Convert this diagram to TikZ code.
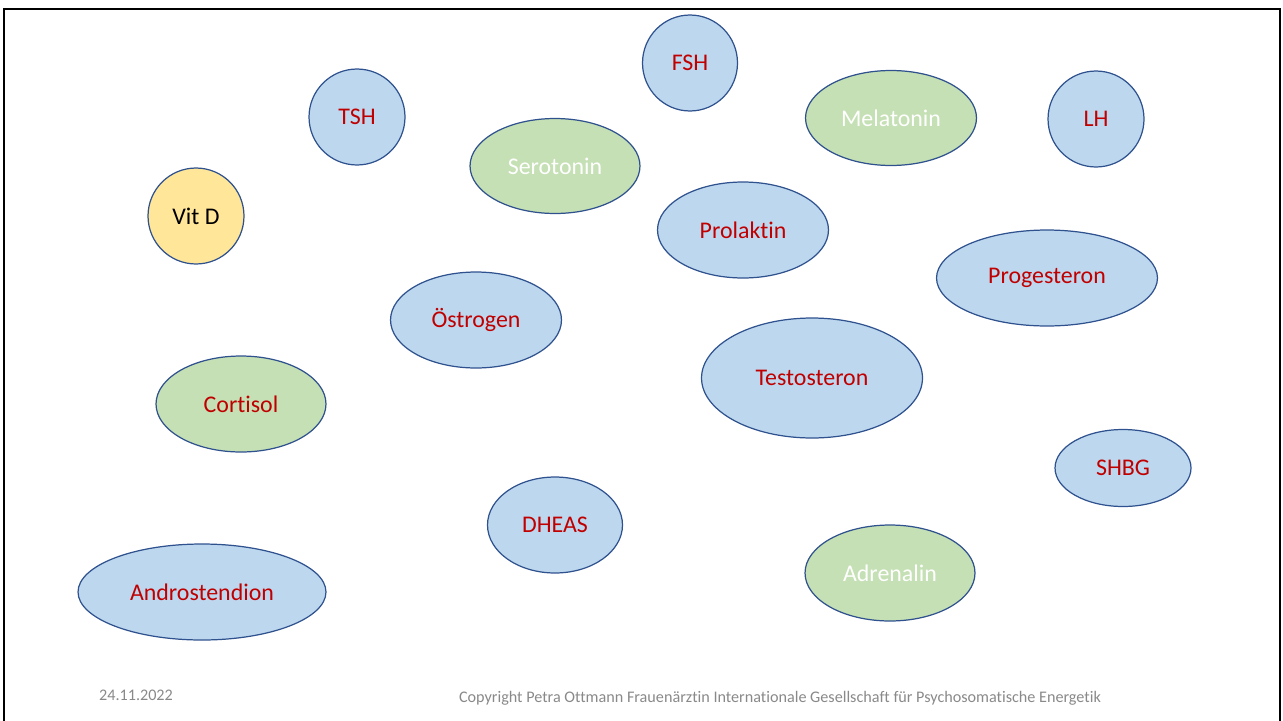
\documentclass[tikz,border=0pt]{standalone}
\usepackage{fontspec}
\setmainfont{Carlito}[Ligatures=NoCommon]
\usepackage{tikz}
\usetikzlibrary{shapes.geometric}

\definecolor{hblue}{HTML}{BDD7EE}
\definecolor{hgreen}{HTML}{C5E0B4}
\definecolor{hyellow}{HTML}{FFE699}
\definecolor{hline}{HTML}{2F528F}
\definecolor{hred}{HTML}{C00000}
\definecolor{hgray}{HTML}{898989}

\begin{document}
\begin{tikzpicture}
		[x=0.02cm,y=-0.02cm,
		every node/.style={ellipse,draw=hline,line width=0.7pt,inner sep=0pt,font=\fontsize{13.6}{15}\selectfont},
		blue/.style={fill=hblue,text=hred},
		green/.style={fill=hgreen,text=white},
		yellow/.style={fill=hyellow,text=black},
		footer/.style={draw=none,fill=none,text=hgray,font=\fontsize{9.2}{11}\selectfont}]
		\useasboundingbox (0,0) rectangle (1283,720);
		\draw[line width=1.6pt] (4,725) -- (4,9) -- (1280,9) -- (1280,725);
		
		\node[blue,minimum width=1.9cm,minimum height=1.92cm] (fsh) at (690,63) {FSH};
		\node[blue,minimum width=1.92cm,minimum height=1.92cm] (tsh) at (357,117) {TSH};
		\node[green,minimum width=3.42cm,minimum height=1.9cm] (mel) at (891,118) {Melatonin};
		\node[blue,minimum width=1.92cm,minimum height=1.92cm] (lh) at (1096,119) {LH};
		\node[green,minimum width=3.4cm,minimum height=1.9cm] (ser) at (555,166) {Serotonin};
		\node[yellow,minimum width=1.92cm,minimum height=1.92cm] (vitd) at (196,216) {Vit D};
		\node[blue,minimum width=3.42cm,minimum height=1.92cm] (pro) at (743,230) {Prolaktin};
		\node[blue,minimum width=4.42cm,minimum height=1.92cm] (prog) at (1047,278) {Progesteron};
		\node[blue,minimum width=3.42cm,minimum height=1.92cm] (oes) at (476,320) {Östrogen};
		\node[blue,minimum width=4.42cm,minimum height=2.4cm] (test) at (812,378) {Testosteron};
		\node[green,text=hred,minimum width=3.4cm,minimum height=1.92cm] (cort) at (241,404) {Cortisol};
		\node[blue,minimum width=2.72cm,minimum height=1.54cm] (shbg) at (1123,468) {SHBG};
		\node[blue,minimum width=2.7cm,minimum height=1.92cm] (dheas) at (555,525) {DHEAS};
		\node[green,minimum width=3.4cm,minimum height=1.92cm] (adr) at (890,573) {Adrenalin};
		\node[blue,minimum width=4.96cm,minimum height=1.92cm] (andro) at (202,592) {Androstendion};
		
		\node[footer] (date) at (136,695) {24.11.2022};
		\node[footer] (copy) at (780,698) {Copyright Petra Ottmann Frauenärztin Internationale Gesellschaft für Psychosomatische Energetik};
		\end{tikzpicture}
\end{document}
